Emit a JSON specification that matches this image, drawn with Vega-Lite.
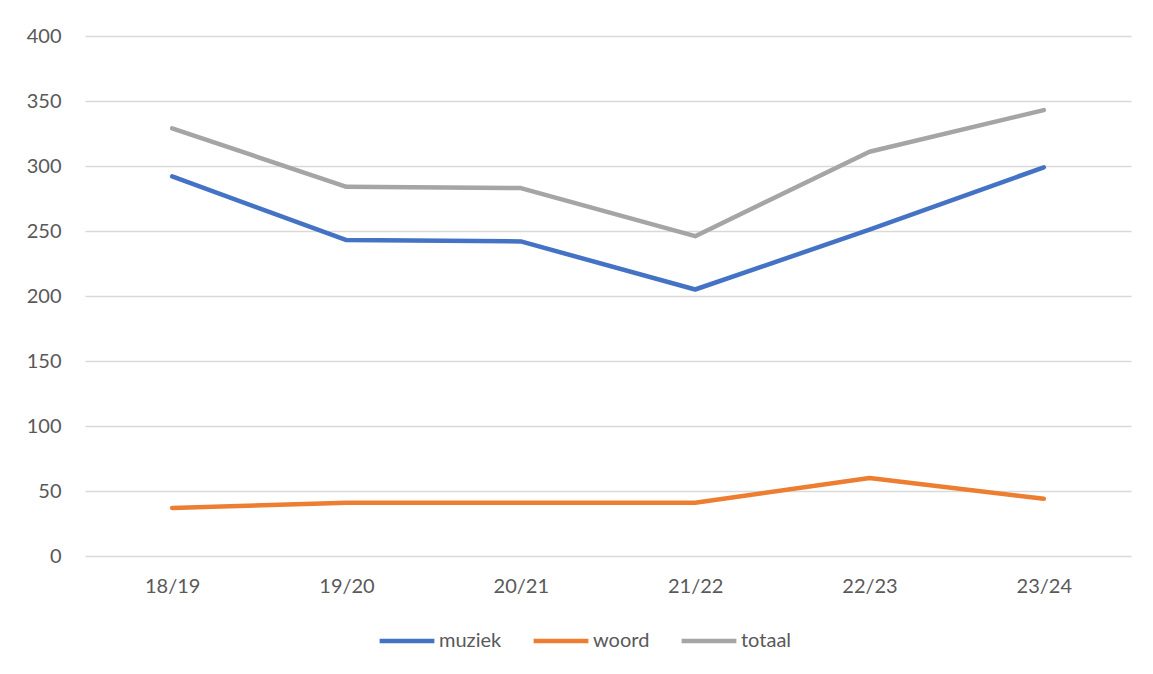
{
  "$schema": "https://vega.github.io/schema/vega-lite/v6.json",
  "autosize": {"type": "none"},
  "width": 1046,
  "height": 520,
  "padding": {"left": 85, "top": 36, "right": 22, "bottom": 118},
  "background": "white",
  "data": {
    "values": [
      {"jaar": "18/19", "reeks": "muziek", "waarde": 292},
      {"jaar": "19/20", "reeks": "muziek", "waarde": 243},
      {"jaar": "20/21", "reeks": "muziek", "waarde": 242},
      {"jaar": "21/22", "reeks": "muziek", "waarde": 205},
      {"jaar": "22/23", "reeks": "muziek", "waarde": 251},
      {"jaar": "23/24", "reeks": "muziek", "waarde": 299},
      {"jaar": "18/19", "reeks": "woord", "waarde": 37},
      {"jaar": "19/20", "reeks": "woord", "waarde": 41},
      {"jaar": "20/21", "reeks": "woord", "waarde": 41},
      {"jaar": "21/22", "reeks": "woord", "waarde": 41},
      {"jaar": "22/23", "reeks": "woord", "waarde": 60},
      {"jaar": "23/24", "reeks": "woord", "waarde": 44},
      {"jaar": "18/19", "reeks": "totaal", "waarde": 329},
      {"jaar": "19/20", "reeks": "totaal", "waarde": 284},
      {"jaar": "20/21", "reeks": "totaal", "waarde": 283},
      {"jaar": "21/22", "reeks": "totaal", "waarde": 246},
      {"jaar": "22/23", "reeks": "totaal", "waarde": 311},
      {"jaar": "23/24", "reeks": "totaal", "waarde": 343}
    ]
  },
  "mark": {"type": "line", "strokeWidth": 4.5, "strokeCap": "round", "strokeJoin": "round"},
  "encoding": {
    "x": {
      "field": "jaar", "type": "ordinal",
      "scale": {"type": "point", "padding": 0.5},
      "axis": {"title": null, "labelAngle": 0, "labelPadding": 20, "ticks": false, "domain": false, "grid": false}
    },
    "y": {
      "field": "waarde", "type": "quantitative",
      "scale": {"domain": [0, 400]},
      "axis": {"title": null, "values": [0, 50, 100, 150, 200, 250, 300, 350, 400], "labelPadding": 24, "ticks": false, "domain": false, "gridColor": "#D9D9D9", "gridWidth": 1.3}
    },
    "color": {
      "field": "reeks", "type": "nominal",
      "scale": {"domain": ["muziek", "woord", "totaal"], "range": ["#4472C4", "#ED7D31", "#A5A5A5"]},
      "legend": {
        "title": null, "orient": "none", "direction": "horizontal",
        "legendX": 292, "legendY": 575,
        "symbolType": "stroke", "symbolSize": 3000, "symbolStrokeWidth": 4.5,
        "labelOffset": 2, "columnPadding": 22
      }
    }
  },
  "config": {
    "view": {"stroke": null},
    "font": "Lato",
    "axis": {"labelFont": "Lato", "labelFontSize": 20, "labelColor": "#595959"},
    "legend": {"labelFont": "Lato", "labelFontSize": 20, "labelColor": "#595959"}
  }
}
